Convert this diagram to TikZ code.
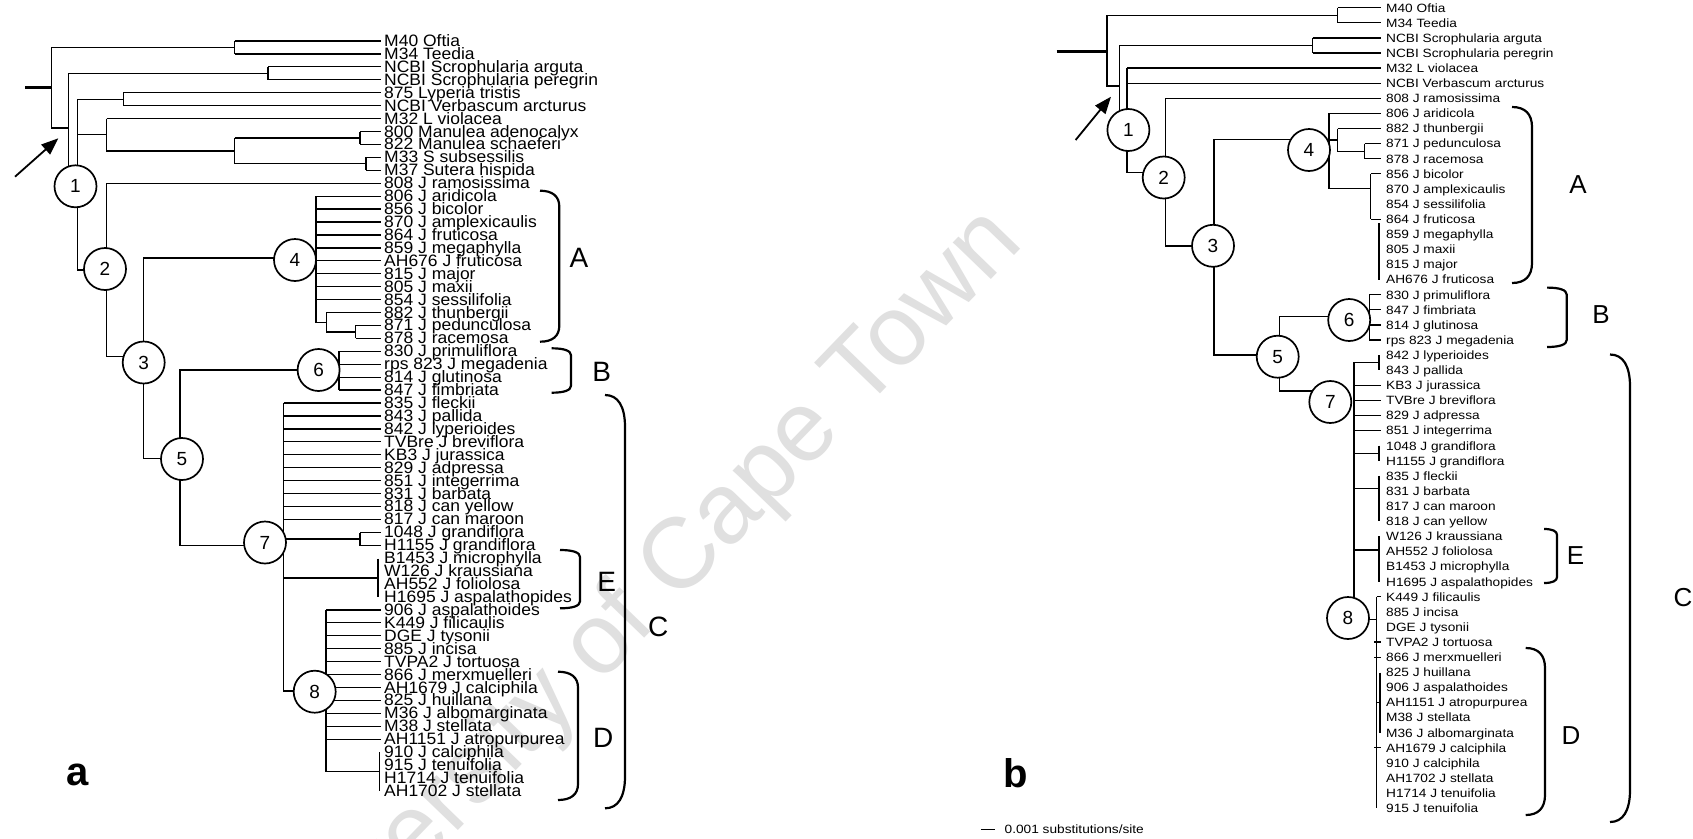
\documentclass[tikz,border=0pt]{standalone}
\usepackage{fontspec}
\setmainfont{Liberation Sans}
\newfontfamily\fa[FakeStretch=1.06]{Liberation Sans}
\newfontfamily\fb[FakeStretch=1.14]{Liberation Sans}
\usetikzlibrary{arrows.meta}
\newcommand{\mybrk}[5]{\draw[brk] (#1,#2) .. controls ({#3-0.35*(#3-#1)},#2) and (#3,{#2+0.35*#5}) .. (#3,{#2+#5}) -- (#3,{#4-#5}) .. controls (#3,{#4-0.35*#5}) and ({#3-0.35*(#3-#1)},#4) .. (#1,#4);}
\begin{document}
\begin{tikzpicture}[x=1pt,y=-1pt,
  tl/.style={line width=1.25pt},
  stub/.style={line width=3pt},
  brk/.style={line width=2.2pt},
  circ/.style={circle,draw,line width=1.7pt,fill=white,minimum size=42pt,inner sep=0pt,font=\fontsize{19}{19}\selectfont},
  la/.style={anchor=base west,inner sep=0pt,font=\fa\fontsize{16.5}{16.5}\selectfont},
  lb/.style={anchor=base west,inner sep=0pt,font=\fb\fontsize{12}{12}\selectfont},
  clA/.style={inner sep=0pt,font=\fontsize{28}{28}\selectfont},
  clB/.style={inner sep=0pt,font=\fontsize{26}{26}\selectfont},
  arr/.style={line width=1.8pt,-{Triangle[length=17pt,width=13pt]}},
  panel/.style={anchor=base,inner sep=0pt,font=\bfseries\fontsize{40}{40}\selectfont}]
\useasboundingbox (0,0) rectangle (1693,838);
\fill[white] (0,0) rectangle (1693,838);
% watermark
\node[rotate=46,text=black!12,inner sep=0pt,font=\fontsize{100}{100}\selectfont] (wm) at (632,614) {University of Cape Town};

% ================= tree a =================
\foreach \i/\x/\t in {
1/234.5/M40 Oftia,2/234.5/M34 Teedia,3/268/NCBI Scrophularia arguta,4/268/NCBI Scrophularia peregrin,
5/123.4/875 Lyperia tristis,6/123.4/NCBI Verbascum arcturus,7/106.7/M32 L violacea,
8/360/800 Manulea adenocalyx,9/360/822 Manulea schaeferi,10/366/M33 S subsessilis,11/366/M37 Sutera hispida,
12/106.7/808 J ramosissima,13/316/806 J aridicola,14/316/856 J bicolor,15/316/870 J amplexicaulis,
16/316/864 J fruticosa,17/316/859 J megaphylla,18/316/AH676 J fruticosa,19/316/815 J major,
20/316/805 J maxii,21/316/854 J sessilifolia,22/326.4/882 J thunbergii,23/355.6/871 J pedunculosa,
24/355.6/878 J racemosa,25/339/830 J primuliflora,26/339/rps 823 J megadenia,27/339/814 J glutinosa,
28/339/847 J fimbriata,29/283.5/835 J fleckii,30/283.5/843 J pallida,31/283.5/842 J lyperioides,
32/283.5/TVBre J breviflora,33/283.5/KB3 J jurassica,34/283.5/829 J adpressa,35/283.5/851 J integerrima,
36/283.5/831 J barbata,37/283.5/818 J can yellow,38/283.5/817 J can maroon,39/360/1048 J grandiflora,
40/360/H1155 J grandiflora,41/381/B1453 J microphylla,42/381/W126 J kraussiana,43/381/AH552 J foliolosa,
44/381/H1695 J aspalathopides,45/326/906 J aspalathoides,46/326/K449 J filicaulis,47/326/DGE J tysonii,
48/326/885 J incisa,49/326/TVPA2 J tortuosa,50/326/866 J merxmuelleri,51/326/AH1679 J calciphila,
52/326/825 J huillana,53/326/M36 J albomarginata,54/326/M38 J stellata,55/326/AH1151 J atropurpurea,
56/381/910 J calciphila,57/381/915 J tenuifolia,58/381/H1714 J tenuifolia,59/381/AH1702 J stellata}{
  \pgfmathsetmacro\yy{41+(\i-1)*12.93}
  \coordinate (ea\i) at (381,\yy);
  \node[la] (ta\i) at (384,\yy+5.5) {\t};
  \ifdim\x pt<380pt \draw[tl] (\x,\yy) -- (ea\i); \fi
}
\draw[stub] (25,87.7) -- (51.7,87.7);
\draw[tl] (234.5,47.5) -- (51.7,47.5) -- (51.7,128) -- (68.3,128);
\draw[tl] (234.5,41) -- (234.5,53.9);
\draw[tl] (268,73.3) -- (68.3,73.3) -- (68.3,186.3);
\draw[tl] (268,66.9) -- (268,79.8);
\draw[tl] (123.4,99.2) -- (77.7,99.2) -- (77.7,270) -- (105,270);
\draw[tl] (123.4,92.7) -- (123.4,105.7);
\draw[tl] (77.7,134.8) -- (106.7,134.8);
\draw[tl] (106.7,118.6) -- (106.7,150.9) -- (234.5,150.9);
\draw[tl] (234.5,138) -- (234.5,163.8);
\draw[tl] (234.5,138) -- (360,138) (360,131.5) -- (360,144.4);
\draw[tl] (234.5,163.8) -- (366,163.8) (366,157.3) -- (366,170.2);
\draw[tl] (106.7,183.2) -- (106.7,356.7) -- (143.5,356.7);
\draw[tl] (295,258) -- (143.5,258) -- (143.5,458.3) -- (182,458.3);
\draw[tl] (316,196.2) -- (316,322.2) -- (326.4,322.2);
\draw[tl] (326.4,312.5) -- (326.4,331.9) -- (355.6,331.9);
\draw[tl] (355.6,325.4) -- (355.6,338.3);
\draw[tl] (295,260) -- (316,260);
\draw[tl] (318.6,370) -- (180,370) -- (180,545.7) -- (265,545.7);
\draw[tl] (339,351.3) -- (339,390.1) (318.6,370.7) -- (339,370.7);
\draw[tl] (283.5,403.4) -- (283.5,691) -- (314.7,691);
\draw[tl] (283.5,539.1) -- (360,539.1) (360,532.6) -- (360,545.6);
\draw[tl] (283.5,577.9) -- (378,577.9) (378,558.5) -- (378,597.2);
\draw[tl] (326,610.1) -- (326,771.6) -- (379.5,771.6) (379.5,752.2) -- (379.5,791);
\node[circ] (a1) at (75.5,186.3) {1};
\node[circ] (a2) at (105,269) {2};
\node[circ] (a3) at (143.7,362.5) {3};
\node[circ] (a4) at (295,260) {4};
\node[circ] (a5) at (182,459) {5};
\node[circ] (a6) at (318.6,370) {6};
\node[circ] (a7) at (265,542.5) {7};
\node[circ] (a8) at (314.7,691.7) {8};
\coordinate (arAs) at (15,176.7);
\coordinate (arAe) at (58.3,138.3);
\draw[arr] (arAs) -- (arAe);
\mybrk{540}{190.7}{559.3}{341.7}{16}
\mybrk{551.7}{348.3}{571}{392.7}{7}
\mybrk{605}{395}{625}{808.3}{32}
\mybrk{560}{550}{580}{608.3}{7}
\mybrk{558}{671.7}{578}{800}{16}
\node[clA] (lAa) at (579,258.3) {A};
\node[clA] (lBa) at (601.7,371.7) {B};
\node[clA] (lCa) at (658.3,626.7) {C};
\node[clA] (lEa) at (606.7,581.7) {E};
\node[clA] (lDa) at (603.3,738.3) {D};
\node[panel] (pa) at (78,785) {a};

% ================= tree b =================
\foreach \i/\x/\t in {
1/1337.6/M40 Oftia,2/1337.6/M34 Teedia,3/1312.5/NCBI Scrophularia arguta,4/1312.5/NCBI Scrophularia peregrin,
5/1127/M32 L violacea,6/1127/NCBI Verbascum arcturus,7/1165.6/808 J ramosissima,8/1329/806 J aridicola,
9/1337.6/882 J thunbergii,10/1364.6/871 J pedunculosa,11/1364.6/878 J racemosa,12/1370.8/856 J bicolor,
13/1381/870 J amplexicaulis,14/1381/854 J sessilifolia,15/1370.8/864 J fruticosa,16/1381/859 J megaphylla,
17/1381/805 J maxii,18/1381/815 J major,19/1381/AH676 J fruticosa,20/1369.4/830 J primuliflora,
21/1369.4/847 J fimbriata,22/1369.4/814 J glutinosa,23/1369.4/rps 823 J megadenia,24/1381/842 J lyperioides,
25/1381/843 J pallida,26/1354/KB3 J jurassica,27/1354/TVBre J breviflora,28/1354/829 J adpressa,
29/1354/851 J integerrima,30/1381/1048 J grandiflora,31/1381/H1155 J grandiflora,32/1381/835 J fleckii,
33/1381/831 J barbata,34/1381/817 J can maroon,35/1381/818 J can yellow,36/1381/W126 J kraussiana,
37/1381/AH552 J foliolosa,38/1381/B1453 J microphylla,39/1381/H1695 J aspalathopides,40/1376.5/K449 J filicaulis,
41/1381/885 J incisa,42/1381/DGE J tysonii,43/1374/TVPA2 J tortuosa,44/1374/866 J merxmuelleri,
45/1381/825 J huillana,46/1381/906 J aspalathoides,47/1381/AH1151 J atropurpurea,48/1381/M38 J stellata,
49/1381/M36 J albomarginata,50/1374/AH1679 J calciphila,51/1381/910 J calciphila,52/1381/AH1702 J stellata,
53/1381/H1714 J tenuifolia,54/1381/915 J tenuifolia}{
  \pgfmathsetmacro\yy{7.7+(\i-1)*15.105}
  \coordinate (eb\i) at (1381,\yy);
  \node[lb] (tb\i) at (1386,\yy+4.3) {\t};
  \ifdim\x pt<1378pt \draw[tl] (\x,\yy) -- (eb\i); \fi
}
\draw[stub] (1056.6,51.7) -- (1107,51.7);
\draw[tl] (1337.6,15.25) -- (1107,15.25) -- (1107,86) -- (1119.6,86);
\draw[tl] (1337.6,7.7) -- (1337.6,22.8);
\draw[tl] (1312.5,45.4) -- (1119.6,45.4) -- (1119.6,130);
\draw[tl] (1312.5,37.9) -- (1312.5,53);
\draw[tl] (1127,68.1) -- (1127,172.7) -- (1163.7,172.7);
\draw[tl] (1165.6,98.3) -- (1165.6,246) -- (1213,246);
\draw[tl] (1309,139.3) -- (1214,139.3) -- (1214,355) -- (1277.7,355);
\draw[tl] (1329,113.4) -- (1329,188.3) -- (1370.8,188.3);
\draw[tl] (1329,140) -- (1337.6,140) (1337.6,128.5) -- (1337.6,151.2) -- (1364.6,151.2) (1364.6,143.6) -- (1364.6,158.7);
\draw[tl] (1370.8,173.8) -- (1370.8,219.2) (1379,223) -- (1379,279.6);
\draw[tl] (1349.2,316.7) -- (1279.3,316.7) -- (1279.3,391) -- (1330.3,391);
\draw[tl] (1369.4,294.7) -- (1369.4,340);
\draw[tl] (1379,362.7) -- (1354,362.7) -- (1354,618);
\draw[tl] (1379,355.1) -- (1379,370.3);
\draw[tl] (1354,453.2) -- (1379,453.2) (1379,445.7) -- (1379,460.8);
\draw[tl] (1354,488.3) -- (1379,488.3) (1379,475.9) -- (1379,521.2);
\draw[tl] (1354,550) -- (1379,550) (1379,536.4) -- (1379,581.7);
\draw[tl] (1348,619.3) -- (1376.5,619.3) (1376.5,596.8) -- (1376.5,808.4);
\draw[tl] (1376.5,702.7) -- (1380,702.7) (1380,672.5) -- (1380,732.9);
\node[circ] (b1) at (1128.4,130) {1};
\node[circ] (b2) at (1163.7,177.5) {2};
\node[circ] (b3) at (1213,245.8) {3};
\node[circ] (b4) at (1309,150) {4};
\node[circ] (b5) at (1277.7,356.7) {5};
\node[circ] (b6) at (1349.2,320) {6};
\node[circ] (b7) at (1330.3,402) {7};
\node[circ] (b8) at (1348,618) {8};
\coordinate (arBs) at (1075.6,140);
\coordinate (arBe) at (1111,96.7);
\draw[arr] (arBs) -- (arBe);
\mybrk{1512}{107}{1532}{283}{20}
\mybrk{1547}{287.6}{1566.7}{347}{7}
\mybrk{1610}{354.5}{1630}{822}{32}
\mybrk{1544}{529}{1557}{583}{6}
\mybrk{1525.7}{648}{1545}{815}{20}
\node[clB] (lAb) at (1578,185) {A};
\node[clB] (lBb) at (1601,315) {B};
\node[clB] (lEb) at (1575.5,556) {E};
\node[clB] (lCb) at (1683,598) {C};
\node[clB] (lDb) at (1571,736) {D};
\node[panel] (pb) at (1016,787) {b};
\coordinate (sbs) at (980.8,829.3);
\coordinate (sbe) at (995,829.3);
\draw[tl] (sbs) -- (sbe);
\node[lb] (sbt) at (1004.5,833.6) {0.001 substitutions/site};
\end{tikzpicture}
\end{document}
